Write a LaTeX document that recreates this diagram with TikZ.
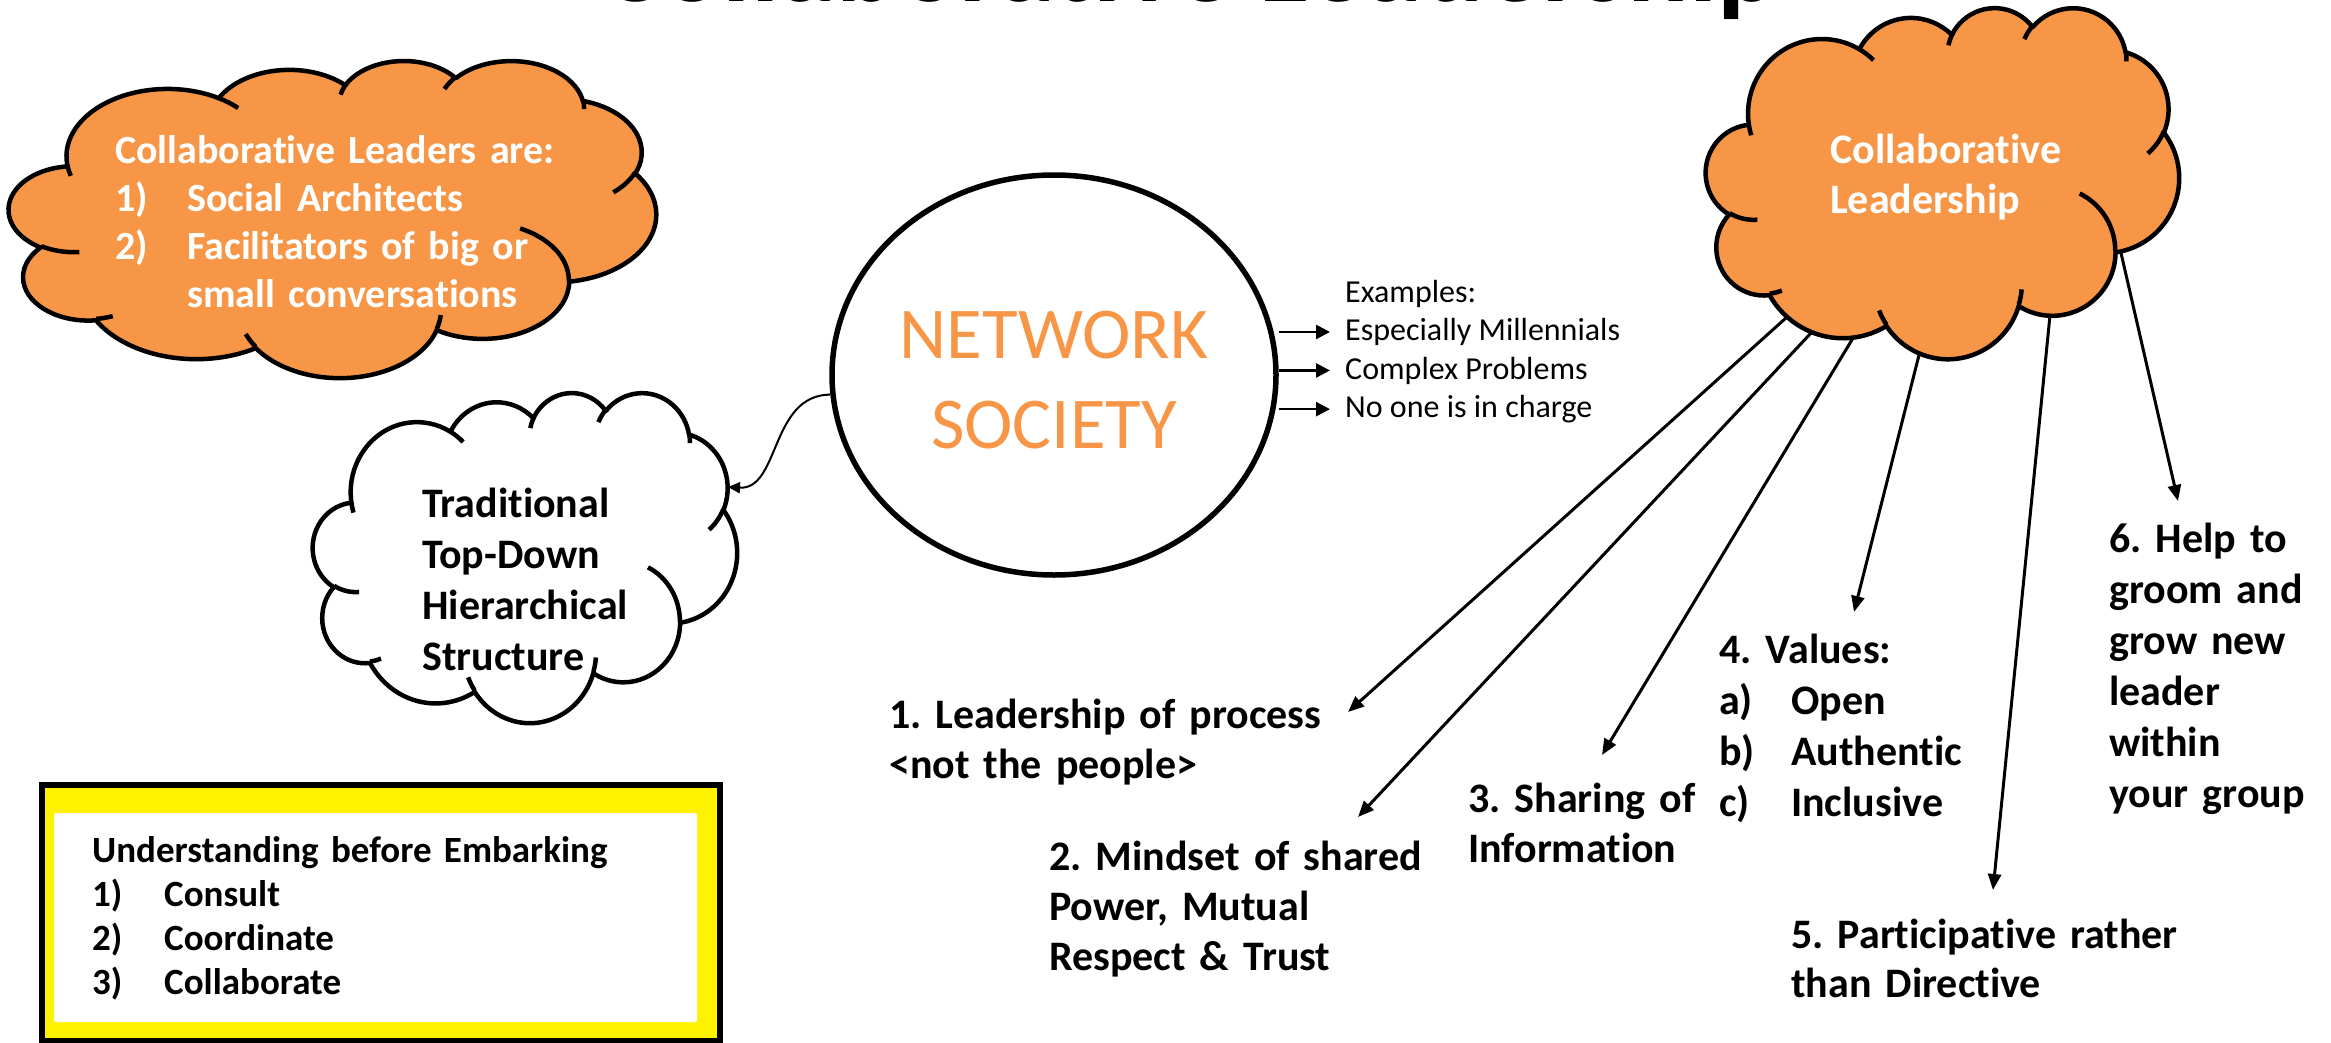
\documentclass[tikz,border=0pt]{standalone}
\usepackage{fontspec}
\setmainfont{Carlito}[Ligatures={NoCommon,NoContextual}]
\usetikzlibrary{arrows.meta,shapes.geometric}
\definecolor{accorange}{HTML}{F79646}
\frenchspacing
% arc of a DrawingML-style ellipse: x radius, y radius, visual start angle, sweep
\newcommand\CA[4]{\pgfextra{\pgfmathsetmacro\clTa{atan2((#1)*sin(#3),(#2)*cos(#3))}\pgfmathsetmacro\clTb{atan2((#1)*sin((#3)+(#4)),(#2)*cos((#3)+(#4)))}\pgfmathsetmacro\clTd{mod(\clTb-\clTa+720,360)}\xdef\clA{\clTa}\xdef\clD{\clTd}} arc[start angle=\clA, delta angle=\clD, x radius=#1, y radius=#2]}
\newcommand\drawcloud[5]{%
\begin{scope}[shift={(#1,#2)}, xscale=#3/432, yscale=#4/432]
\filldraw[fill=#5, cloudline] (39.00,143.70)
 \CA{67.53}{91.90}{-190.48748}{123.78053}
 \CA{53.33}{72.67}{-144.10238}{89.94523}
 \CA{43.65}{59.45}{-145.80792}{99.72302}
 \CA{48.57}{65.95}{-130.98607}{117.24173}
 \CA{53.33}{72.73}{-78.70888}{109.02692}
 \CA{67.75}{92.20}{-46.26725}{130.269}
 \CA{57.85}{78.67}{0.62502}{114.03333}
 \CA{67.52}{92.15}{22.4516}{115.17255}
 \CA{77.20}{105.43}{66.24263}{75.71102}
 \CA{43.60}{59.18}{-274.94208}{146.73557}
 \CA{43.45}{59.45}{-246.8285}{152.51885} -- cycle;
\draw[cloudline]
 (46.93,261.77) \CA{43.45}{59.45}{86.742}{26.4295}
 (69.28,348.99) \CA{43.60}{59.18}{73.61047}{11.44747}
 (164.78,390.90) \CA{67.52}{92.15}{137.62415}{14.0811}
 (288.27,347.51) \CA{67.52}{92.15}{6.45327}{15.99835}
 (341.29,229.54) \CA{57.85}{78.67}{-70.29235}{70.91737}
 (417.98,153.54) \CA{53.33}{72.73}{30.31803}{27.7515}
 (383.24,54.26) \CA{48.57}{65.95}{-13.74433}{14.8589}
 (290.78,39.52) \CA{48.57}{65.95}{-149.18145}{18.19537}
 (221.41,47.20) \CA{43.65}{59.45}{-163.49427}{19.00007}
 (140.00,51.92) \CA{67.53}{91.90}{-66.70695}{12.31935}
 (41.27,157.89) \CA{67.53}{91.90}{157.65435}{11.85817};
\end{scope}}
\begin{document}
\begin{tikzpicture}[x=1pt,y=1pt,yscale=-1,
  cloudline/.style={line width=4.5pt, line join=round},
  bigtxt/.style={anchor=base west, inner sep=0pt, align=left, font=\fontsize{42}{50.5}\selectfont\bfseries},
  arr/.style={line width=3pt, -{Triangle[length=16pt,width=13pt]}},
  exarr/.style={line width=2.5pt, -{Triangle[length=14pt,width=14pt]}},
  extxt/.style={anchor=base west, inner xsep=15pt, inner ysep=0pt, font=\fontsize{32}{38.5}\selectfont}]
\useasboundingbox (0,0) rectangle (2331,1042);
\clip (0,0) rectangle (2331,1042);

% title, mostly above the picture
\node[anchor=base west, inner sep=0pt, font=\fontsize{115}{120}\selectfont\bfseries] (title) at (600,1) {Collaborative Leadership};

% arrows out of the right cloud
\coordinate (s1) at (1787,317);
\coordinate (s2) at (1811,333);
\coordinate (s3) at (1853,338);
\coordinate (s4) at (1919,355);
\coordinate (s5) at (2050,315);
\coordinate (s6) at (2121,253);
\coordinate (e1) at (1348,712);
\coordinate (e2) at (1358,817);
\coordinate (e3) at (1602,755);
\coordinate (e4) at (1854,612);
\coordinate (e5) at (1993,890);
\coordinate (e6) at (2178,501);
\foreach \i in {1,...,6} \draw[arr] (s\i) -- (e\i);

% clouds
\drawcloud{9}{60}{647}{317}{accorange}
\drawcloud{313}{392}{424}{330}{white}
\drawcloud{1706}{7}{473}{351}{accorange}

\node[bigtxt, text width=520pt, text=white, font=\fontsize{40}{48}\selectfont\bfseries] (lct) at (115,163)
 {Collaborative Leaders are:\\\makebox[72pt][l]{1)}Social Architects\\\makebox[72pt][l]{2)}Facilitators of big or\\\hspace*{72pt}small conversations};
\node[bigtxt, text width=290pt, font=\fontsize{42}{51}\selectfont\bfseries] (trt) at (422,517)
 {Traditional\\Top-Down\\Hierarchical\\Structure};
\node[bigtxt, text width=300pt, text=white] (rct) at (1830,163) {Collaborative\\Leadership};

% network society
\node[draw, ellipse, line width=5.5pt, fill=white, minimum width=444pt, minimum height=400pt, inner sep=0pt] (ns) at (1054,375) {};
\node[font=\fontsize{73}{90}\selectfont, text=accorange, align=center, inner sep=0pt] (nst) at (1054,380) {NETWORK\\SOCIETY};
\node[extxt] (ex0) at (1330,302) {Examples:};
\node[extxt] (ex1) at (1330,340.5) {Especially Millennials};
\node[extxt] (ex2) at (1330,379) {Complex Problems};
\node[extxt] (ex3) at (1330,417.5) {No one is in charge};
\foreach \i in {1,2,3} \draw[exarr] (ns.east |- ex\i.west) -- (ex\i.west);

% curved arrow to the traditional cloud
\coordinate (tr) at (728,487);
\draw[line width=2pt, -{Triangle[length=12pt,width=11pt]}] (ns.185) .. controls (770,395) and (780,490) .. (tr);

% yellow box
\filldraw[fill=yellow, line width=5.5pt] (42,785) rectangle (720,1041);
\fill[white, rounded corners=2pt] (54,813) rectangle (697,1022);
\node[bigtxt, text width=620pt, font=\fontsize{37}{44}\selectfont\bfseries] (ybt) at (92,862)
 {Understanding before Embarking\\\makebox[72pt][l]{1)}Consult\\\makebox[72pt][l]{2)}Coordinate\\\makebox[72pt][l]{3)}Collaborate};

% list items
\node[bigtxt, text width=520pt] (n1) at (889,728) {1. Leadership of process\\<not the people>};
\node[bigtxt, text width=400pt, font=\fontsize{42}{50}\selectfont\bfseries] (n2) at (1049,870) {2. Mindset of shared\\Power, Mutual\\Respect \& Trust};
\node[bigtxt, text width=250pt, font=\fontsize{42}{50}\selectfont\bfseries] (n3) at (1468,812) {3. Sharing of\\Information};
\node[bigtxt, text width=340pt, font=\fontsize{42}{51}\selectfont\bfseries] (n4) at (1719,663)
 {4. Values:\\\makebox[72pt][l]{a)}Open\\\makebox[72pt][l]{b)}Authentic\\\makebox[72pt][l]{c)}Inclusive};
\node[bigtxt, text width=520pt, font=\fontsize{42}{49}\selectfont\bfseries] (n5) at (1791,948) {5. Participative rather\\than Directive};
\node[bigtxt, text width=215pt, font=\fontsize{42}{51}\selectfont\bfseries] (n6) at (2109,552) {6. Help to\\groom and\\grow new\\leader\\within\\your group};
\end{tikzpicture}
\end{document}
